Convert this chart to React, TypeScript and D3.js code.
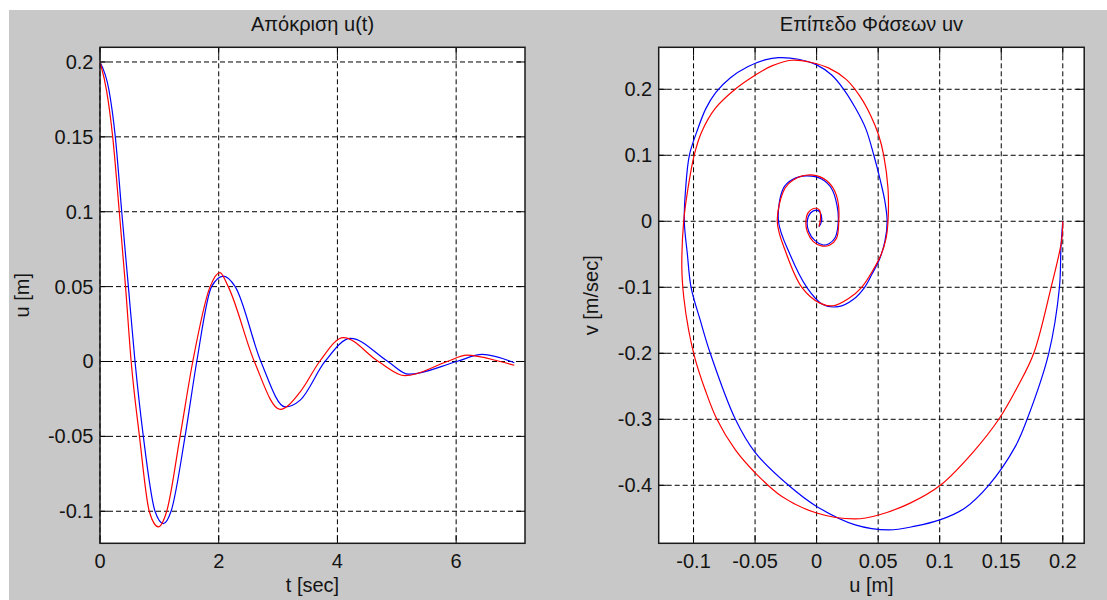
import React from "react";
import * as d3 from "d3";

// Free-vibration response u(t), two solutions (blue / red)
const timeBlue = [0, 0.152, 0.258, 0.366, 0.478, 0.59, 0.73, 0.927, 1.068, 1.197, 1.433, 1.63, 1.88, 2.08, 2.277, 2.71, 3.12, 3.373, 3.79, 4.22, 4.85, 5.2, 6.01, 6.44, 6.98];
const dispBlue = [0.2, 0.181, 0.15, 0.1, 0.05, 0, -0.05, -0.1, -0.1082, -0.1, -0.05, 0, 0.05, 0.057, 0.05, 0, -0.0303, -0.0258, 0, 0.0154, 0, -0.0085, 0, 0.0047, -0.0008];
const timeRed = [0, 0.11, 0.214, 0.325, 0.43, 0.525, 0.665, 0.83, 0.983, 1.124, 1.349, 1.563, 1.855, 2.02, 2.16, 2.6, 3.035, 3.373, 3.7, 4.1, 4.69, 5.14, 5.85, 6.18, 6.74, 6.98];
const dispRed = [0.2, 0.181, 0.15, 0.1, 0.05, 0, -0.05, -0.1, -0.1104, -0.1, -0.05, 0, 0.05, 0.0594, 0.05, 0, -0.032, -0.0203, 0, 0.016, 0, -0.0095, 0, 0.0042, 0, -0.0025];

// Phase-plane trajectories (u, v)
const phaseBlueU = [0.2, 0.1985, 0.1973, 0.1886, 0.171, 0.1615, 0.1398, 0.12, 0.1, 0.08, 0.0585, 0.0314, 0, -0.0228, -0.05, -0.066, -0.0864, -0.0946, -0.102, -0.105, -0.1075, -0.1064, -0.1034, -0.0974, -0.09, -0.082, -0.07, -0.056, -0.042, -0.0309, -0.0147, 0, 0.012, 0.022, 0.032, 0.04, 0.0465, 0.052, 0.0555, 0.0573, 0.0555, 0.051, 0.045, 0.039, 0.03, 0.0176, 0.005, -0.008, -0.0217, -0.031, -0.027, -0.02, -0.008, 0.004, 0.012, 0.0165, 0.0176, 0.015, 0.01, 0.0054, -0.0015, -0.0065, -0.0076, -0.005, 0, 0.003, 0.004, 0.002];
const phaseBlueV = [0, -0.04, -0.1, -0.2, -0.3, -0.341, -0.4, -0.435, -0.4525, -0.462, -0.4677, -0.46, -0.432, -0.4, -0.35, -0.3, -0.2, -0.1495, -0.1, -0.05, 0, 0.05, 0.1, 0.1354, 0.1707, 0.195, 0.2175, 0.234, 0.2445, 0.248, 0.2455, 0.237, 0.222, 0.2, 0.17, 0.14, 0.1, 0.06, 0.03, 0, -0.03, -0.058, -0.08, -0.1, -0.118, -0.1293, -0.126, -0.1, -0.05, 0, 0.05, 0.063, 0.0687, 0.064, 0.05, 0.025, 0, -0.025, -0.034, -0.0359, -0.029, -0.015, 0, 0.0125, 0.017, 0.013, 0, -0.008];
const phaseRedU = [0.2, 0.199, 0.1905, 0.1764, 0.1635, 0.148, 0.127, 0.1005, 0.076, 0.0504, 0.0314, 0, -0.0282, -0.05, -0.066, -0.081, -0.0905, -0.0985, -0.104, -0.108, -0.1095, -0.108, -0.1045, -0.0995, -0.0935, -0.0825, -0.0662, -0.05, -0.0364, -0.0201, -0.005, 0.01, 0.024, 0.035, 0.044, 0.0505, 0.0545, 0.058, 0.058, 0.0565, 0.0525, 0.0455, 0.0366, 0.026, 0.0135, 0.0027, -0.012, -0.0244, -0.032, -0.0257, -0.019, -0.0054, 0.0054, 0.0135, 0.0176, 0.018, 0.0162, 0.0108, 0.004, -0.0027, -0.0076, -0.0087, -0.0068, -0.0014, 0.0022, 0.0032, 0.0019];
const phaseRedV = [0, -0.03, -0.1, -0.2, -0.25, -0.3, -0.35, -0.4, -0.427, -0.445, -0.451, -0.442, -0.417, -0.381, -0.3465, -0.3, -0.2556, -0.21, -0.1646, -0.114, -0.07, 0, 0.05, 0.1, 0.135, 0.1707, 0.2, 0.2212, 0.2354, 0.244, 0.241, 0.232, 0.215, 0.19, 0.16, 0.13, 0.1, 0.05, 0, -0.025, -0.05, -0.075, -0.1, -0.117, -0.128, -0.124, -0.1, -0.05, 0, 0.05, 0.0626, 0.0702, 0.065, 0.05, 0.0273, 0, -0.0258, -0.0359, -0.0374, -0.0308, -0.0157, 0, 0.0131, 0.0197, 0.0172, 0.0045, -0.0081];

const respXTicks = [0, 2, 4, 6];
const respXLabels = ["0", "2", "4", "6"];
const respYTicks = [-0.1, -0.05, 0, 0.05, 0.1, 0.15, 0.2];
const respYLabels = ["-0.1", "-0.05", "0", "0.05", "0.1", "0.15", "0.2"];
const phaseXTicks = [-0.1, -0.05, 0, 0.05, 0.1, 0.15, 0.2];
const phaseXLabels = ["-0.1", "-0.05", "0", "0.05", "0.1", "0.15", "0.2"];
const phaseYTicks = [-0.4, -0.3, -0.2, -0.1, 0, 0.1, 0.2];
const phaseYLabels = ["-0.4", "-0.3", "-0.2", "-0.1", "0", "0.1", "0.2"];

const FONT = "'Liberation Sans', Arial, Helvetica, sans-serif";
const FONT_SIZE = 20;
const TEXT = "#141414";
const TICK_LEN = 8;

type Series = { xs: number[]; ys: number[]; color: string };

type PanelProps = {
  id: string;
  box: { x0: number; x1: number; y0: number; y1: number };
  xDomain: [number, number];
  yDomain: [number, number];
  xTicks: number[];
  xLabels: string[];
  yTicks: number[];
  yLabels: string[];
  title: string;
  xLabel: string;
  yLabel: string;
  yLabelX: number;
  series: Series[];
  curve: d3.CurveFactory;
};

function Panel(p: PanelProps) {
  const { x0, x1, y0, y1 } = p.box;
  const x = d3.scaleLinear().domain(p.xDomain).range([x0, x1]);
  const y = d3.scaleLinear().domain(p.yDomain).range([y1, y0]);
  const line = d3
    .line<[number, number]>()
    .x((d) => x(d[0]))
    .y((d) => y(d[1]))
    .curve(p.curve);
  const cx = (x0 + x1) / 2;
  const cy = (y0 + y1) / 2;
  const dash = "5,3";
  return (
    <g>
      <defs>
        <clipPath id={p.id}>
          <rect x={x0} y={y0} width={x1 - x0} height={y1 - y0} />
        </clipPath>
      </defs>
      <rect x={x0} y={y0} width={x1 - x0} height={y1 - y0} fill="#ffffff" />
      {/* dashed grid */}
      {p.xTicks.map((t) => (
        <line key={"gx" + t} x1={x(t)} x2={x(t)} y1={y0} y2={y1} stroke="#000" strokeWidth={1} strokeDasharray={dash} />
      ))}
      {p.yTicks.map((t) => (
        <line key={"gy" + t} x1={x0} x2={x1} y1={y(t)} y2={y(t)} stroke="#000" strokeWidth={1} strokeDasharray={dash} />
      ))}
      {/* inward ticks on all four sides */}
      {p.xTicks.map((t) => (
        <g key={"tx" + t}>
          <line x1={x(t)} x2={x(t)} y1={y1} y2={y1 - TICK_LEN} stroke="#000" />
          <line x1={x(t)} x2={x(t)} y1={y0} y2={y0 + TICK_LEN} stroke="#000" />
        </g>
      ))}
      {p.yTicks.map((t) => (
        <g key={"ty" + t}>
          <line x1={x0} x2={x0 + TICK_LEN} y1={y(t)} y2={y(t)} stroke="#000" />
          <line x1={x1} x2={x1 - TICK_LEN} y1={y(t)} y2={y(t)} stroke="#000" />
        </g>
      ))}
      <g clipPath={`url(#${p.id})`}>
        {p.series.map((s, i) => (
          <path
            key={i}
            d={line(s.xs.map((v, k) => [v, s.ys[k]] as [number, number])) || ""}
            fill="none"
            stroke={s.color}
            strokeWidth={1.2}
          />
        ))}
      </g>
      <rect x={x0} y={y0} width={x1 - x0} height={y1 - y0} fill="none" stroke="#1a1a1a" strokeWidth={1.5} />
      {/* tick labels */}
      {p.xTicks.map((t, i) => (
        <text key={"lx" + t} x={x(t)} y={567.5} textAnchor="middle" fontSize={FONT_SIZE} fontFamily={FONT} fill={TEXT}>
          {p.xLabels[i]}
        </text>
      ))}
      {p.yTicks.map((t, i) => (
        <text key={"ly" + t} x={x0 - 6.5} y={y(t) + 7} textAnchor="end" fontSize={FONT_SIZE} fontFamily={FONT} fill={TEXT}>
          {p.yLabels[i]}
        </text>
      ))}
      <text x={cx} y={31} textAnchor="middle" fontSize={FONT_SIZE} fontFamily={FONT} fill={TEXT}>
        {p.title}
      </text>
      <text x={cx} y={592} textAnchor="middle" fontSize={FONT_SIZE} fontFamily={FONT} fill={TEXT}>
        {p.xLabel}
      </text>
      <text
        transform={`translate(${p.yLabelX},${cy}) rotate(-90)`}
        textAnchor="middle"
        fontSize={FONT_SIZE}
        fontFamily={FONT}
        fill={TEXT}
      >
        {p.yLabel}
      </text>
    </g>
  );
}

export default function App() {
  const W = 1107;
  const H = 600;
  return (
    <svg
      width={W}
      height={H}
      viewBox={`0 0 ${W} ${H}`}
      style={{ position: "absolute", left: 0, top: 0, display: "block" }}
    >
      <rect x={0} y={0} width={W} height={H} fill="#ffffff" />
      <rect x={9} y={10} width={W - 9} height={H - 10} fill="#c8c8c8" />
      <Panel
        id="clipResp"
        box={{ x0: 100, x1: 525, y0: 47.3, y1: 543.3 }}
        xDomain={[0, 7.16]}
        yDomain={[-0.1214, 0.2098]}
        xTicks={respXTicks}
        xLabels={respXLabels}
        yTicks={respYTicks}
        yLabels={respYLabels}
        title="Απόκριση u(t)"
        xLabel="t [sec]"
        yLabel="u [m]"
        yLabelX={29}
        curve={d3.curveMonotoneX}
        series={[
          { xs: timeBlue, ys: dispBlue, color: "#0000ff" },
          { xs: timeRed, ys: dispRed, color: "#ff0000" },
        ]}
      />
      <Panel
        id="clipPhase"
        box={{ x0: 658.7, x1: 1084.2, y0: 47.3, y1: 543.3 }}
        xDomain={[-0.1283, 0.2174]}
        yDomain={[-0.4879, 0.2636]}
        xTicks={phaseXTicks}
        xLabels={phaseXLabels}
        yTicks={phaseYTicks}
        yLabels={phaseYLabels}
        title="Επίπεδο Φάσεων uv"
        xLabel="u [m]"
        yLabel="v  [m/sec]"
        yLabelX={598}
        curve={d3.curveCatmullRom.alpha(0.5)}
        series={[
          { xs: phaseBlueU, ys: phaseBlueV, color: "#0000ff" },
          { xs: phaseRedU, ys: phaseRedV, color: "#ff0000" },
        ]}
      />
    </svg>
  );
}
